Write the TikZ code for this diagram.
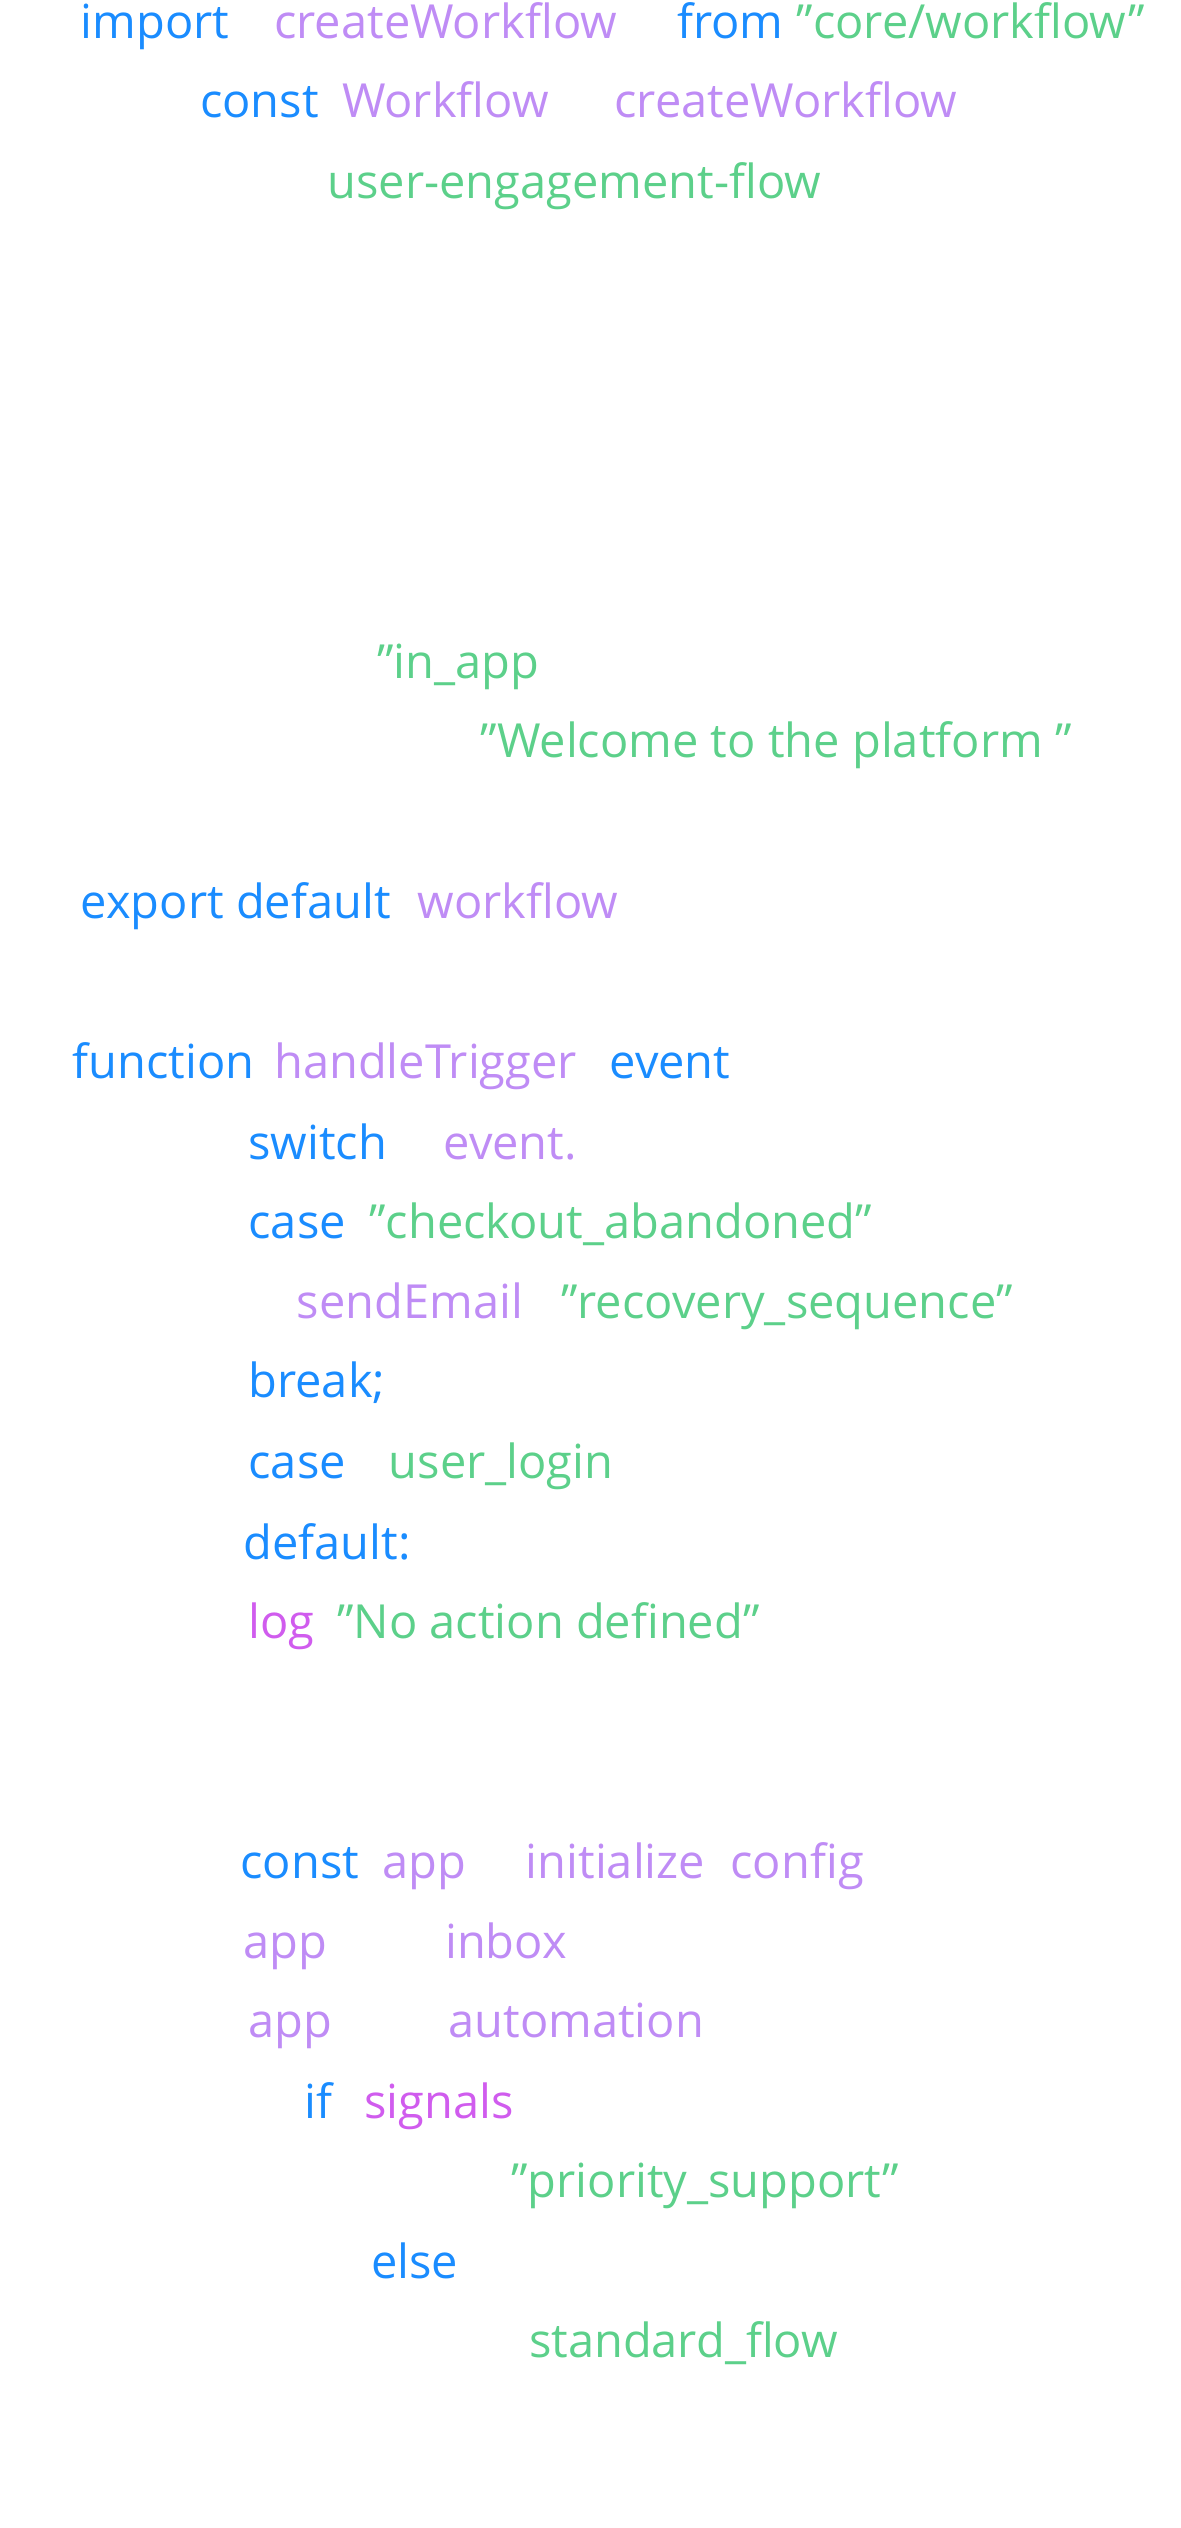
\documentclass[tikz,border=0pt]{standalone}
\usepackage{fontspec}
\setmainfont{Open Sans}
\usetikzlibrary{positioning}
\definecolor{kwblue}{HTML}{1A8CFF}
\definecolor{idpurple}{HTML}{BF8CF5}
\definecolor{strgreen}{HTML}{5CD08A}
\definecolor{sigpink}{HTML}{D05CEE}
\newcommand{\dq}{\symbol{34}}
\tikzset{
code/.style={anchor=base west,inner sep=0pt,font=\fontsize{47}{56}\selectfont},
kw/.style={code,text=kwblue},
ident/.style={code,text=idpurple},
str/.style={code,text=strgreen},
sig/.style={code,text=sigpink}
}
\begin{document}
\begin{tikzpicture}[x=1.612pt,y=-1.612pt]
\useasboundingbox (0,0) rectangle (732,1568);
\node[kw] (import) at (50,24) {import};
\node[ident] (create a) at (170,24) {createWorkflow};
\node[kw] (from) at (420,24) {from};
\node[str] (path) at (494,24) {\dq core/workflow\dq};
\node[kw] (const wf) at (124,73) {const};
\node[ident] (workflow name) at (212,73) {Workflow};
\node[ident] (create b) at (381,73) {createWorkflow};
\node[str] (flow id) at (203,123) {user-engagement-flow};
\node[str] (channel) at (234,421) {\dq in\_app};
\node[str] (welcome) at (298,470) {\dq Welcome to the platform \dq};
\node[kw] (export) at (50,570) {export default};
\node[ident] (workflow) at (259,570) {workflow};
\node[kw] (function) at (45,669) {function};
\node[ident] (handler) at (170,669) {handleTrigger};
\node[kw] (event arg) at (378,669) {event};
\node[kw] (switch) at (154,719) {switch};
\node[ident] (event dot) at (275,719) {event.};
\node[kw] (case a) at (154,768) {case};
\node[str] (checkout) at (229,768) {\dq checkout\_abandoned\dq};
\node[ident] (send mail) at (184,818) {sendEmail};
\node[str] (recovery) at (348,818) {\dq recovery\_sequence\dq};
\node[kw] (break) at (154,867) {break;};
\node[kw] (case b) at (154,917) {case};
\node[str] (login) at (241,917) {user\_login};
\node[kw] (default) at (151,967) {default:};
\node[sig] (log) at (154,1016) {log};
\node[str] (no action) at (209,1016) {\dq No action defined\dq};
\node[kw] (const app) at (149,1165) {const};
\node[ident] (app a) at (237,1165) {app};
\node[ident] (init) at (326,1165) {initialize};
\node[ident] (config) at (453,1165) {config};
\node[ident] (app b) at (151,1215) {app};
\node[ident] (inbox) at (276,1215) {inbox};
\node[ident] (app c) at (154,1264) {app};
\node[ident] (automation) at (278,1264) {automation};
\node[kw] (if) at (189,1314) {if};
\node[sig] (signals) at (226,1314) {signals};
\node[str] (priority) at (317,1363) {\dq priority\_support\dq};
\node[kw] (else) at (230,1413) {else};
\node[str] (standard) at (328,1462) {standard\_flow};
\end{tikzpicture}
\end{document}
